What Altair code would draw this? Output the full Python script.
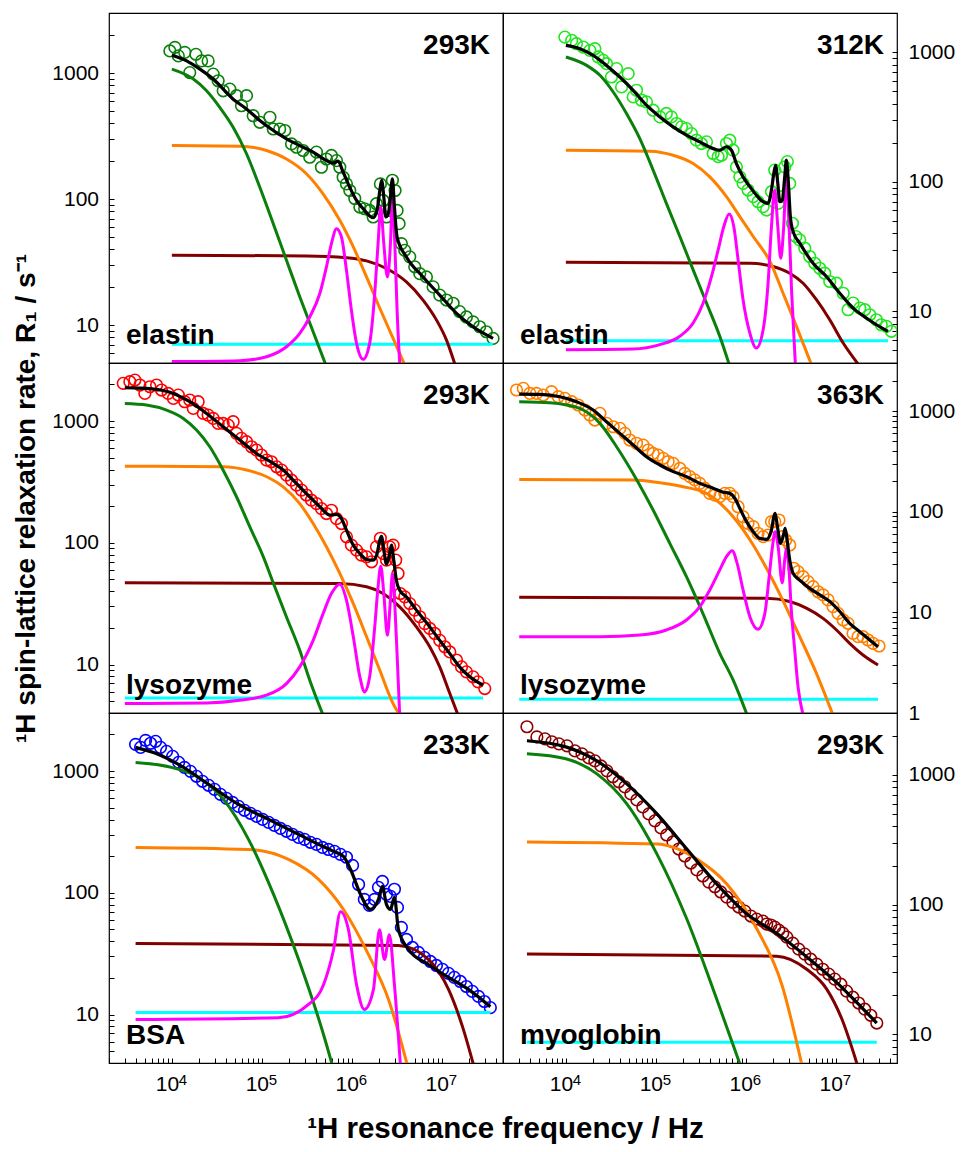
import altair as alt
import pandas as pd

FONT = "Liberation Sans"
X_DOMAIN = [2000, 48000000]
X_MAJOR = [10**4, 10**5, 10**6, 10**7]
X_MAJOR_BASE = ["10", "10", "10", "10"]
X_MAJOR_EXP = ["4", "5", "6", "7"]
Y_MAJOR = [1, 10, 100, 1000]
Y_MAJOR_LABELS = ["1", "10", "100", "1000"]
TITLE_Y = "¹H spin-lattice relaxation rate, R₁ / s⁻¹"
TITLE_X = "¹H resonance frequency / Hz"

GREEN = "#0b7f0b"
ORANGE = "#ff8000"
MAROON = "#800000"
MAGENTA = "#ff00ff"
CYAN = "#00ffff"

# ---------------- elastin 293K ----------------
tl_pts = [(9.5e3,1500),(1.08e4,1600),(1.18e4,1370),(1.39e4,1460),(1.58e4,1010),(1.85e4,1410),(2.14e4,1250),(2.53e4,1250),(2.88e4,982),(3.27e4,869),(3.72e4,724),(4.41e4,747),(5.23e4,662),(5.94e4,551),(6.76e4,662),(8.02e4,459),(9.5e4,407),(1.23e5,446),(1.34e5,360),(1.58e5,360),(1.80e5,350),(2.14e5,274),(2.43e5,258),(2.88e5,243),(3.41e5,215),(4.05e5,236),(4.60e5,179),(5.23e5,208),(5.94e5,222),(6.76e5,202),(7.36e5,179),(8.02e5,149),(8.73e5,132),(9.5e5,117),(1.08e6,101),(1.23e6,86.5),(1.39e6,83.8),(1.58e6,81.3),(1.73e6,72.1),(1.88e6,91.9),(2.08e6,132),(2.23e6,97.5),(2.43e6,72.1),(2.60e6,81.3),(2.83e6,141),(3.03e6,117),(3.19e6,81.3),(3.36e6,63.8),(3.56e6,44.3),(3.88e6,39.2),(4.41e6,34.8),(5.01e6,29.0),(5.70e6,25.6),(6.76e6,24.1),(8.02e6,20.1),(9.5e6,17.3),(1.13e7,15.8),(1.34e7,14.9),(1.58e7,12.8),(1.88e7,11.6),(2.23e7,10.6),(2.64e7,9.7),(3.13e7,8.85),(3.72e7,7.84)]
tl_fit = [(1e4,1388),(1.46e4,1252),(2.05e4,1076),(2.88e4,897),(3.72e4,747),(4.8e4,622),(6.76e4,519),(9.5e4,420),(1.34e5,350),(1.88e5,301),(2.64e5,266),(3.72e5,236),(5.23e5,202),(6.21e5,193),(7.05e5,200),(8.01e5,164),(9.5e5,124),(1.13e6,97.6),(1.39e6,81.3),(1.73e6,71.1),(1.91e6,81.3),(2.05e6,117),(2.15e6,141),(2.27e6,104),(2.39e6,72.1),(2.55e6,76.6),(2.69e6,104),(2.83e6,145),(2.98e6,86.5),(3.19e6,50.0),(4.05e6,34.7),(6.2e6,24.1),(9.5e6,17.3),(1.46e7,12.4),(2.23e7,9.7),(3.72e7,7.84)]
tl_green = [(1e4,1075),(1.73e4,897),(2.43e4,725),(3.41e4,535),(4.8e4,372),(6.76e4,229),(9.5e4,124),(1.34e5,63.8),(1.88e5,32.7),(2.64e5,16.8),(3.72e5,8.85),(5.23e5,4.68)]
tl_orange = [(1e4,266),(5.7e4,263),(1.13e5,243),(1.88e5,208),(3.13e5,159),(4.8e5,110),(7.36e5,67.8),(1.04e6,41.7),(1.46e6,24.1),(2.05e6,13.6),(2.88e6,7.84),(3.88e6,4.82)]
tl_maroon = [(1e4,35.8),(3.13e5,35.4),(8.73e5,34.3),(1.46e6,32.3),(2.43e6,28.1),(4.05e6,22.0),(6.2e6,15.8),(8.73e6,11.0),(1.13e7,7.6),(1.39e7,4.98)]
tl_cyan = [(1e4,7.03),(3.7e7,7.03)]
tl_magenta = [(1e4,5.13),(5.7e4,5.22),(1.13e5,5.61),(1.88e5,6.73),(2.64e5,8.59),(3.41e5,11.6),(4.41e5,17.8),(5.23e5,29.0),(5.94e5,44.3),(6.76e5,58.2),(7.68e5,50.0),(8.73e5,27.2),(9.91e5,13.1),(1.13e6,7.16),(1.34e6,5.35),(1.58e6,7.16),(1.80e6,17.8),(1.96e6,44.3),(2.10e6,86.4),(2.27e6,44.3),(2.49e6,24.1),(2.69e6,44.3),(2.83e6,104),(3.01e6,44.3),(3.19e6,13.1),(3.41e6,4.98)]

# ---------------- elastin 312K ----------------
tr_pts = [(9.75e3,1304),(1.16e4,1230),(1.31e4,1159),(1.56e4,1092),(1.85e4,1030),(2.10e4,1061),(2.29e4,916),(2.60e4,863),(2.83e4,813),(3.21e4,642),(3.66e4,745),(4.16e4,538),(4.93e4,681),(5.6e4,451),(6.10e4,507),(6.93e4,425),(7.87e4,412),(9.33e4,356),(1.11e5,316),(1.31e5,336),(1.49e5,316),(1.70e5,281),(1.93e5,265),(2.19e5,257),(2.49e5,235),(2.83e5,209),(3.21e5,197),(3.66e5,203),(4.34e5,165),(4.93e5,156),(5.37e5,160),(6.10e5,197),(6.64e5,209),(7.23e5,175),(7.87e5,130),(8.58e5,109),(9.33e5,97.0),(1.06e6,86.3),(1.21e6,76.7),(1.37e6,70.1),(1.56e6,64.2),(1.70e6,60.5),(1.93e6,83.8),(2.10e6,123),(2.29e6,68.1),(2.49e6,76.7),(2.71e6,130),(2.90e6,143),(3.08e6,97.0),(3.30e6,47.8),(3.60e6,37.8),(3.98e6,35.6),(4.53e6,30.7),(5.14e6,26.5),(5.85e6,23.5),(6.64e6,21.5),(7.55e6,19.7),(8.58e6,17.0),(1.02e7,16.5),(1.21e7,13.8),(1.37e7,10.3),(1.56e7,11.6),(1.85e7,10.6),(2.10e7,10.3),(2.39e7,9.42),(2.83e7,8.62),(3.21e7,7.89),(3.66e7,7.67),(4.16e7,7.02)]
tr_fit = [(1e4,1125),(1.43e4,1061),(2.01e4,943),(2.83e4,789),(3.98e4,642),(5.6e4,507),(7.87e4,389),(1.11e5,316),(1.56e5,265),(2.19e5,229),(3.08e5,203),(4.34e5,180),(5.14e5,175),(6.10e5,186),(6.93e5,175),(7.87e5,138),(9.33e5,109),(1.11e6,91.6),(1.31e6,78.9),(1.56e6,70.1),(1.77e6,68.1),(1.93e6,86.3),(2.05e6,116),(2.15e6,134),(2.27e6,97.0),(2.39e6,70.1),(2.55e6,72.3),(2.71e6,109),(2.83e6,147),(2.98e6,97.0),(3.13e6,53.8),(3.36e6,41.2),(3.98e6,33.6),(5.6e6,23.5),(7.87e6,18.6),(1.11e7,13.8),(1.56e7,10.6),(2.19e7,8.89),(2.83e7,7.89),(3.81e7,7.02)]
tr_green = [(1e4,916),(1.70e4,789),(2.39e4,662),(3.36e4,492),(4.72e4,336),(6.64e4,215),(9.33e4,123),(1.31e5,68.1),(1.85e5,37.8),(2.60e5,20.9),(3.66e5,11.6),(5.14e5,6.43),(6.64e5,3.78)]
tr_orange = [(1e4,175),(8.58e4,172),(1.56e5,160),(2.60e5,138),(3.98e5,109),(6.10e5,76.7),(8.58e5,53.8),(1.21e6,37.8),(1.88e6,23.9),(2.60e6,13.8),(3.66e6,7.67),(5.37e6,3.89)]
tr_maroon = [(1e4,23.9),(1.11e6,23.5),(2.01e6,22.2),(3.08e6,19.7),(4.34e6,16.5),(6.10e6,12.3),(8.58e6,8.62),(1.21e7,5.70),(1.85e7,3.78)]
tr_cyan = [(1e4,5.94),(3.81e7,5.94)]
tr_magenta = [(1e4,5.07),(5.6e4,5.13),(1.11e5,5.54),(1.85e5,6.43),(2.60e5,8.13),(3.36e5,11.6),(4.16e5,18.6),(4.93e5,29.8),(5.70e5,45.1),(6.53e5,56.4),(7.36e5,45.1),(8.22e5,24.9),(9.33e5,12.3),(1.11e6,6.81),(1.31e6,5.22),(1.56e6,7.22),(1.77e6,16.5),(1.93e6,45.1),(2.10e6,86.3),(2.27e6,45.1),(2.45e6,25.7),(2.64e6,45.1),(2.83e6,109),(3.03e6,45.1),(3.24e6,13.8),(3.56e6,3.89)]

# ---------------- lysozyme 293K ----------------
ml_pts = [(2.88e3,2042),(3.41e3,2105),(3.88e3,2173),(4.41e3,1977),(5.01e3,1687),(5.70e3,1914),(6.76e3,1977),(7.68e3,1799),(9.10e3,1687),(1.04e4,1535),(1.18e4,1636),(1.39e4,1442),(1.58e4,1489),(1.73e4,1271),(1.96e4,1442),(2.23e4,1156),(2.53e4,1120),(2.88e4,1052),(3.27e4,957),(3.72e4,957),(4.23e4,927),(4.80e4,988),(5.23e4,793),(5.94e4,721),(6.76e4,677),(7.68e4,615),(8.73e4,578),(9.91e4,526),(1.13e5,478),(1.28e5,463),(1.46e5,421),(1.66e5,396),(1.88e5,360),(2.14e5,327),(2.43e5,298),(2.76e5,271),(3.13e5,247),(3.56e5,224),(4.05e5,210),(4.60e5,191),(5.23e5,174),(5.94e5,185),(6.76e5,158),(7.68e5,144),(8.73e5,112),(9.91e5,95.7),(1.13e6,87.1),(1.28e6,79.3),(1.46e6,76.7),(1.66e6,69.8),(1.88e6,92.7),(2.08e6,109),(2.23e6,81.7),(2.43e6,72.1),(2.64e6,92.7),(2.88e6,95.7),(3.08e6,72.1),(3.27e6,56.0),(3.47e6,38.3),(3.88e6,36.0),(4.41e6,31.7),(5.01e6,28.0),(5.70e6,24.7),(6.47e6,21.7),(7.36e6,19.8),(8.36e6,18.0),(9.5e6,15.8),(1.08e7,14.0),(1.23e7,12.7),(1.46e7,10.9),(1.66e7,9.57),(1.88e7,8.71),(2.23e7,7.93),(2.53e7,7.21),(3.01e7,6.35)]
ml_fit = [(3e3,1879),(4.41e3,1867),(6.76e3,1820),(1.04e4,1687),(1.58e4,1442),(2.43e4,1156),(3.72e4,898),(5.70e4,698),(8.73e4,542),(1.34e5,449),(1.73e5,396),(2.23e5,327),(3.13e5,254),(4.41e5,198),(5.70e5,169),(6.76e5,171),(7.68e5,158),(8.73e5,127),(1.04e6,95.7),(1.23e6,81.7),(1.46e6,72.9),(1.73e6,72.1),(1.91e6,81.7),(2.05e6,105),(2.14e6,113),(2.27e6,87.1),(2.43e6,66.8),(2.60e6,76.7),(2.76e6,95.7),(2.93e6,72.1),(3.13e6,49.3),(3.41e6,40.8),(4.05e6,36.0),(5.23e6,28.0),(7.36e6,20.4),(9.5e6,15.8),(1.23e7,12.3),(1.58e7,9.57),(2.05e7,7.93),(2.88e7,6.76)]
ml_green = [(3e3,1397),(5.23e3,1355),(8.73e3,1231),(1.34e4,1052),(1.88e4,844),(2.64e4,615),(3.72e4,395),(5.23e4,239),(7.36e4,135),(1.04e5,76.7),(1.34e5,46.9),(1.88e5,24.6),(2.64e5,13.1),(3.41e5,7.43),(4.80e5,3.84)]
ml_orange = [(3e3,426),(3.72e4,421),(6.76e4,396),(1.13e5,349),(1.73e5,288),(2.64e5,210),(3.72e5,144),(5.23e5,92.7),(7.36e5,56.0),(1.04e6,31.7),(1.46e6,16.9),(2.05e6,8.97),(2.88e6,4.78),(3.41e6,3.84)]
ml_maroon = [(3e3,46.9),(7.36e5,46.3),(1.46e6,43.5),(2.23e6,38.3),(3.41e6,29.8),(5.23e6,20.4),(7.36e6,14.0),(9.5e6,9.57),(1.23e7,5.78),(1.52e7,3.84)]
ml_cyan = [(3e3,5.32),(2.88e7,5.32)]
ml_magenta = [(3e3,4.78),(2.43e4,4.84),(5.70e4,5.09),(1.13e5,5.60),(1.88e5,6.98),(2.64e5,9.57),(3.72e5,15.8),(4.80e5,26.2),(5.94e5,38.3),(7.36e5,45.7),(8.73e5,33.8),(1.04e6,16.9),(1.23e6,7.93),(1.39e6,5.96),(1.58e6,7.93),(1.80e6,20.4),(1.96e6,43.5),(2.10e6,64.3),(2.27e6,38.3),(2.49e6,17.4),(2.69e6,33.8),(2.83e6,56.0),(3.03e6,28.0),(3.21e6,10.9),(3.41e6,3.84)]

# ---------------- lysozyme 363K ----------------
mr_pts = [(2.83e3,1618),(3.36e3,1679),(3.98e3,1496),(4.72e3,1496),(5.60e3,1442),(6.93e3,1556),(8.22e3,1387),(9.75e3,1336),(1.16e4,1238),(1.37e4,1148),(1.63e4,1023),(1.85e4,912),(2.10e4,814),(2.39e4,948),(2.83e4,754),(3.36e4,698),(3.98e4,673),(4.53e4,600),(5.14e4,515),(6.10e4,478),(7.23e4,459),(8.22e4,410),(9.33e4,379),(1.06e5,365),(1.21e5,339),(1.37e5,314),(1.56e5,302),(1.85e5,269),(2.10e5,240),(2.39e5,223),(2.71e5,207),(3.08e5,191),(3.50e5,171),(3.98e5,152),(4.53e5,146),(5.14e5,141),(5.85e5,152),(6.64e5,152),(7.23e5,141),(8.22e5,112),(9.33e5,89.1),(1.06e6,76.6),(1.21e6,71.0),(1.37e6,61.0),(1.56e6,56.5),(1.77e6,58.6),(1.93e6,79.6),(2.10e6,79.6),(2.34e6,82.6),(2.55e6,56.5),(2.78e6,52.3),(3.08e6,46.7),(3.41e6,27.4),(3.81e6,25.4),(4.34e6,22.6),(4.93e6,20.2),(5.60e6,18.0),(6.37e6,16.0),(7.23e6,14.9),(8.22e6,13.3),(9.33e6,11.4),(1.06e7,9.77),(1.21e7,8.40),(1.37e7,7.78),(1.56e7,6.18),(1.77e7,5.73),(2.01e7,5.73),(2.29e7,5.31),(2.60e7,4.92),(3.03e7,4.63)]
mr_fit = [(3.03e3,1475),(5.14e3,1465),(8.58e3,1387),(1.31e4,1238),(2.01e4,1023),(2.83e4,783),(3.98e4,600),(5.6e4,459),(7.87e4,352),(1.11e5,291),(1.56e5,250),(2.19e5,223),(3.08e5,191),(4.34e5,171),(5.6e5,156),(6.64e5,152),(7.55e5,136),(8.58e5,108),(1.02e6,79.6),(1.21e6,63.2),(1.43e6,54.3),(1.70e6,53.1),(1.93e6,65.8),(2.05e6,89.1),(2.12e6,96.2),(2.25e6,71.0),(2.43e6,48.5),(2.60e6,56.5),(2.74e6,68.3),(2.88e6,52.3),(3.08e6,33.1),(3.36e6,24.4),(3.98e6,20.9),(5.14e6,17.3),(6.64e6,14.9),(8.58e6,12.8),(1.11e7,10.2),(1.43e7,7.78),(1.85e7,6.43),(2.39e7,5.31),(2.95e7,4.56)]
mr_green = [(3.03e3,1238),(6.64e3,1210),(1.02e4,1148),(1.56e4,1023),(2.39e4,754),(3.66e4,442),(6.10e4,209),(9.33e4,104),(1.43e5,48.5),(2.19e5,22.6),(3.36e5,9.62),(5.14e5,3.92),(7.23e5,2.13),(1.02e6,0.99)]
mr_orange = [(3.03e3,209),(5.6e4,207),(1.11e5,194),(2.01e5,177),(3.66e5,152),(7.23e5,89.1),(1.21e6,46.7),(1.70e6,27.4),(2.49e6,14.1),(3.98e6,5.73),(6.10e6,2.48),(9.33e6,0.955)]
mr_maroon = [(3.03e3,14.1),(1.70e6,13.8),(3.08e6,12.8),(4.72e6,11.0),(7.23e6,8.71),(1.02e7,6.68),(1.43e7,4.92),(2.01e7,3.77),(2.95e7,3.00)]
mr_cyan = [(3.03e3,1.37),(2.95e7,1.37)]
mr_magenta = [(3.03e3,5.73),(2.39e4,5.73),(6.64e4,5.95),(1.31e5,6.68),(2.19e5,8.40),(3.08e5,11.4),(3.98e5,16.7),(5.14e5,26.4),(6.10e5,35.7),(7.05e5,41.0),(8.02e5,30.7),(9.33e5,16.7),(1.11e6,9.06),(1.37e6,6.78),(1.63e6,9.77),(1.82e6,22.6),(1.98e6,44.9),(2.12e6,63.2),(2.29e6,44.9),(2.54e6,19.7),(2.71e6,33.1),(2.83e6,43.3),(3.01e6,28.4),(3.21e6,10.5),(3.50e6,4.23),(3.81e6,1.83),(4.34e6,0.955)]

# ---------------- BSA 233K ----------------
bl_pts = [(3.95e3,1656),(4.49e3,1566),(5.10e3,1787),(5.79e3,1692),(6.59e3,1754),(7.48e3,1566),(8.73e3,1452),(1.02e4,1321),(1.19e4,1180),(1.38e4,1072),(1.61e4,995),(1.88e4,906),(2.19e4,824),(2.56e4,764),(2.98e4,708),(3.47e4,644),(4.05e4,597),(4.72e4,553),(5.51e4,513),(6.42e4,476),(7.48e4,450),(8.73e4,425),(1.02e5,401),(1.19e5,379),(1.38e5,358),(1.61e5,338),(1.88e5,320),(2.19e5,302),(2.56e5,285),(2.98e5,275),(3.47e5,260),(4.05e5,250),(4.72e5,236),(5.51e5,227),(6.42e5,219),(7.48e5,207),(8.73e5,196),(1.02e6,168),(1.19e6,117),(1.38e6,88.3),(1.57e6,78.9),(1.79e6,88.3),(1.98e6,111),(2.19e6,124),(2.43e6,97.0),(2.69e6,93.5),(2.98e6,107),(3.22e6,75.9),(3.56e6,52.0),(4.06e6,41.4),(4.72e6,35.6),(5.51e6,32.4),(6.42e6,29.5),(7.48e6,27.3),(8.73e6,25.3),(1.02e7,23.5),(1.19e7,21.8),(1.38e7,20.2),(1.61e7,18.7),(1.88e7,17.0),(2.19e7,15.5),(2.56e7,14.1),(2.98e7,12.8),(3.47e7,11.4)]
bl_fit = [(3.95e3,1566),(7.11e3,1371),(1.35e4,1072),(2.56e4,777),(5.51e4,532),(1.19e5,401),(2.56e5,302),(4.27e5,250),(6.27e5,219),(8.09e5,199),(9.68e5,156),(1.25e6,97.2),(1.61e6,73.1),(1.98e6,88.3),(2.19e6,113),(2.43e6,80.4),(2.69e6,73.1),(2.98e6,91.8),(3.30e6,50.1),(4.27e6,34.3),(7.11e6,25.8),(1.19e7,20.2),(1.98e7,16.1),(3.47e7,11.6)]
bl_green = [(3.95e3,1178),(9.9e3,1072),(1.98e4,887),(3.75e4,585),(7.11e4,275),(1.35e5,97),(2.56e5,28.4),(4.85e5,6.86),(6.27e5,3.54)]
bl_orange = [(3.95e3,236),(7.11e4,227),(1.98e5,188),(4.27e5,129),(8.09e5,73),(1.53e6,31.2),(2.56e6,13.3),(4.27e6,3.54)]
bl_maroon = [(3.95e3,38.4),(3.3e6,37.0),(7.11e6,28.4),(1.19e7,16.1),(1.74e7,7.55),(2.25e7,3.89)]
bl_cyan = [(3.95e3,10.4),(3.47e7,10.4)]
bl_magenta = [(3.95e3,9.1),(1.53e5,9.4),(3.30e5,12.1),(4.85e5,17.6),(6.27e5,34.1),(7.5e5,70.0),(9.18e5,49.8),(1.13e6,17.6),(1.38e6,11.0),(1.74e6,16.0),(2.03e6,49.8),(2.31e6,28.3),(2.62e6,45.3),(2.98e6,17.6),(3.47e6,3.89)]

# ---------------- myoglobin 293K ----------------
br_pts = [(3.69e3,2350),(4.76e3,1963),(5.85e3,1896),(6.99e3,1798),(8.36e3,1734),(1.03e4,1674),(1.26e4,1531),(1.51e4,1452),(1.80e4,1352),(2.10e4,1282),(2.45e4,1172),(2.86e4,1074),(3.33e4,966),(3.88e4,884),(4.53e4,808),(5.27e4,713),(6.15e4,641),(7.17e4,566),(8.36e4,500),(9.75e4,442),(1.14e5,390),(1.32e5,344),(1.55e5,304),(1.80e5,268),(2.10e5,237),(2.45e5,209),(2.86e5,185),(3.33e5,166),(3.88e5,149),(4.53e5,137),(5.27e5,125),(6.15e5,114),(7.17e5,104),(8.36e5,95.7),(9.75e5,89.1),(1.14e6,81.5),(1.32e6,77.3),(1.55e6,74.6),(1.71e6,70.7),(1.90e6,69.5),(2.10e6,67.0),(2.33e6,63.5),(2.58e6,60.2),(2.86e6,56.1),(3.33e6,50.4),(3.88e6,45.3),(4.53e6,41.5),(5.27e6,37.9),(6.15e6,34.7),(7.17e6,31.7),(8.36e6,29.1),(9.75e6,26.6),(1.14e7,24.3),(1.32e7,21.5),(1.55e7,19.3),(1.80e7,17.4),(2.10e7,15.6),(2.45e7,14.0),(2.86e7,12.2)]
br_fit = [(3.69e3,1832),(1e4,1644),(2.21e4,1282),(4.76e4,853),(1.03e5,500),(2.21e5,268),(4.76e5,144),(1.03e6,84.5),(2.21e6,60.0),(4.76e6,39.5),(1.03e7,25.0),(1.71e7,17.6),(2.86e7,12.2)]
br_green = [(3.69e3,1453),(1e4,1330),(2.21e4,1018),(4.76e4,598),(1.03e5,245),(2.21e5,77.3),(4.76e5,18.6),(9.03e5,5.37)]
br_orange = [(3.69e3,304),(1.03e5,293),(2.86e5,224),(6.15e5,144),(1.33e6,64.7),(2.51e6,24.3),(4.19e6,5.86)]
br_maroon = [(3.69e3,41.5),(2.21e6,40.0),(4.76e6,31.7),(7.94e6,22.3),(1.17e7,13.1),(1.80e7,5.37)]
br_cyan = [(3.69e3,8.67),(2.86e7,8.67)]
br_magenta = []

PANELS = [
    dict(temp="293K", name="elastin", ydom=[5, 3000], color="#0b7f0b", orient="left",
         pts=tl_pts, fit=tl_fit, green=tl_green, orange=tl_orange, maroon=tl_maroon, cyan=tl_cyan, magenta=tl_magenta, xaxis=False, ytitle=False, xtitle=False),
    dict(temp="312K", name="elastin", ydom=[4, 2000], color="#22e622", orient="right",
         pts=tr_pts, fit=tr_fit, green=tr_green, orange=tr_orange, maroon=tr_maroon, cyan=tr_cyan, magenta=tr_magenta, xaxis=False, ytitle=False, xtitle=False),
    dict(temp="293K", name="lysozyme", ydom=[4, 3000], color="#ff0000", orient="left",
         pts=ml_pts, fit=ml_fit, green=ml_green, orange=ml_orange, maroon=ml_maroon, cyan=ml_cyan, magenta=ml_magenta, xaxis=False, ytitle=True, xtitle=False),
    dict(temp="363K", name="lysozyme", ydom=[1, 3000], color="#ff8000", orient="right",
         pts=mr_pts, fit=mr_fit, green=mr_green, orange=mr_orange, maroon=mr_maroon, cyan=mr_cyan, magenta=mr_magenta, xaxis=False, ytitle=False, xtitle=False),
    dict(temp="233K", name="BSA", ydom=[4, 3000], color="#0000ff", orient="left",
         pts=bl_pts, fit=bl_fit, green=bl_green, orange=bl_orange, maroon=bl_maroon, cyan=bl_cyan, magenta=bl_magenta, xaxis=True, ytitle=False, xtitle=True),
    dict(temp="293K", name="myoglobin", ydom=[6, 3000], color="#8b0000", orient="right",
         pts=br_pts, fit=br_fit, green=br_green, orange=br_orange, maroon=br_maroon, cyan=br_cyan, magenta=br_magenta, xaxis=True, ytitle=False, xtitle=False),
]

PW, PH = 394, 350


def log_ticks(lo, hi):
    out = []
    for e in range(0, 9):
        for m in range(1, 10):
            v = m * 10 ** e
            if lo <= v < hi * 0.999:
                out.append(v)
    return out


def label_expr(values, labels):
    expr = "''"
    for v, l in zip(reversed(values), reversed(labels)):
        expr = f"datum.value == {v} ? '{l}' : ({expr})"
    return expr


def make_panel(p):
    xs = alt.Scale(type="log", domain=X_DOMAIN, nice=False)
    ys = alt.Scale(type="log", domain=p["ydom"], nice=False)
    if p["xaxis"]:
        xkw = dict(values=log_ticks(*X_DOMAIN), labelExpr=label_expr(X_MAJOR, X_MAJOR_BASE),
                   tickSize=alt.ExprRef("-5"), tickColor="black", tickWidth=1, labelOffset=-5,
                   labelPadding=15, labelFont=FONT, labelFontSize=21, labelColor="black",
                   labelOverlap=False, labelFlush=False, domain=False, grid=False, title=None)
        if p["xtitle"]:
            xkw.update(title=TITLE_X, titleFont=FONT, titleFontSize=29.5, titleFontWeight="bold",
                       titleColor="black", titleX=PW + 2, titlePadding=20)
        xaxis = alt.Axis(**xkw)
    else:
        xaxis = None
    pad = 15.5 if p["orient"] == "left" else 16
    ykw = dict(orient=p["orient"], values=log_ticks(*p["ydom"]), labelExpr=label_expr(Y_MAJOR, Y_MAJOR_LABELS),
               tickSize=alt.ExprRef("-5"), tickColor="black", tickWidth=1,
               labelPadding=pad, labelFont=FONT, labelFontSize=21, labelColor="black",
               labelOverlap=False, labelFlush=False, domain=False, grid=False, title=None)
    if p["ytitle"]:
        ykw.update(title=TITLE_Y, titleFont=FONT, titleFontSize=28, titleFontWeight="bold",
                   titleColor="black", titlePadding=11, titleY=135)
    yaxis = alt.Axis(**ykw)

    enc = dict(x=alt.X("f:Q", scale=xs, axis=xaxis), y=alt.Y("r:Q", scale=ys, axis=yaxis))

    def line(points, color, width):
        df = pd.DataFrame(points, columns=["f", "r"])
        return alt.Chart(df).mark_line(color=color, strokeWidth=width, interpolate="monotone", clip=True).encode(**enc)

    df_pts = pd.DataFrame(p["pts"], columns=["f", "r"])
    layers = [alt.Chart(df_pts).mark_point(shape="circle", filled=False, size=135, strokeWidth=1.6,
                                            color=p["color"], opacity=1, clip=True).encode(**enc)]
    layers.append(line(p["cyan"], CYAN, 3))
    layers.append(line(p["maroon"], MAROON, 3))
    layers.append(line(p["orange"], ORANGE, 3))
    layers.append(line(p["green"], GREEN, 3))
    if p["magenta"]:
        layers.append(line(p["magenta"], MAGENTA, 3))
    layers.append(line(p["fit"], "black", 3.2))
    layers.append(alt.Chart(pd.DataFrame({"t": [p["temp"]]})).mark_text(
        align="right", baseline="alphabetic", font=FONT, fontSize=28, fontWeight="bold", color="black"
    ).encode(text="t:N", x=alt.value(PW - 13), y=alt.value(40.6)))
    layers.append(alt.Chart(pd.DataFrame({"t": [p["name"]]})).mark_text(
        align="left", baseline="alphabetic", font=FONT, fontSize=28, fontWeight="bold", color="black"
    ).encode(text="t:N", x=alt.value(17), y=alt.value(PH - 19.5)))
    if p["xaxis"]:
        df_exp = pd.DataFrame({"f": X_MAJOR, "e": X_MAJOR_EXP})
        layers.append(alt.Chart(df_exp).mark_text(
            align="left", baseline="alphabetic", font=FONT, fontSize=15, color="black", dx=7
        ).encode(x=alt.X("f:Q", scale=xs, axis=xaxis), y=alt.value(PH + 21.5), text="e:N"))
    return alt.layer(*layers).properties(width=PW, height=PH)


panels = [make_panel(p) for p in PANELS]

chart = alt.concat(*panels, columns=2, spacing=0, bounds="flush").properties(
    background="white",
    padding={"left": 12, "top": 12, "right": 5, "bottom": 5},
).configure_view(stroke="black", strokeWidth=1.2)

chart.save("out.html", embed_options={"renderer": "svg", "actions": False})
